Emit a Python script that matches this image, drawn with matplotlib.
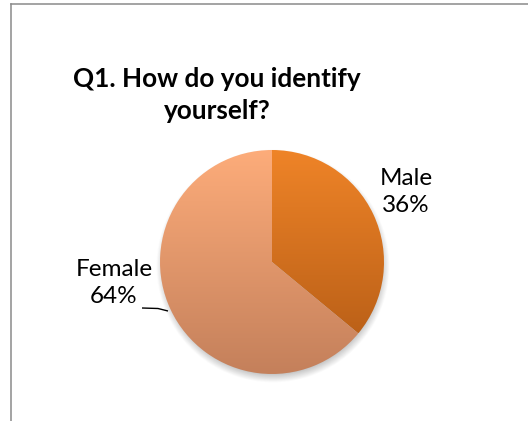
import numpy as np
import matplotlib
matplotlib.use("Agg")
import matplotlib.pyplot as plt
from matplotlib.colors import LinearSegmentedColormap
from matplotlib.lines import Line2D

# Survey answers
labels = ["Male", "Female"]
shares = [36, 64]
# top / bottom colours of each slice's vertical gradient
top_colors = ["#EF8428", "#FDAC7A"]
bottom_colors = ["#BC6118", "#C4805B"]

title = "Q1. How do you identify\nyourself?"

W, H = 528, 421
fig = plt.figure(figsize=(W / 100, H / 100), dpi=100)
ax = fig.add_axes([0, 0, 1, 1])

cx, cy, r = 272, H - 262, 112

# soft drop shadow under the pie
gx = np.linspace(cx - r - 20, cx + r + 20, 300)
gy = np.linspace(cy - r - 20, cy + r + 20, 300)
X, Y = np.meshgrid(gx, gy)
d = np.hypot(X - (cx + 1), Y - (cy - 4))
blur = 10.0
alpha = np.clip((r + blur / 2 - d) / blur, 0, 1) * 0.4
shadow = np.zeros((300, 300, 4))
shadow[..., :3] = 0.35
shadow[..., 3] = alpha
ax.imshow(shadow, extent=[gx[0], gx[-1], gy[0], gy[-1]], origin="lower",
          zorder=1, interpolation="bilinear")

wedges, _ = ax.pie(shares, center=(cx, cy), radius=r, startangle=90,
                   counterclock=False, frame=True,
                   wedgeprops=dict(linewidth=0))

for w, c0, c1 in zip(wedges, top_colors, bottom_colors):
    w.set_facecolor("none")
    w.set_zorder(2)
    bb = w.get_path().get_extents(w.get_transform() + ax.transData.inverted())
    cmap = LinearSegmentedColormap.from_list("g", [c1, c0])
    grad = np.linspace(0, 1, 256).reshape(-1, 1)
    im = ax.imshow(grad, cmap=cmap, extent=[bb.x0, bb.x1, bb.y0, bb.y1],
                   origin="lower", aspect="auto", zorder=3,
                   interpolation="bilinear")
    im.set_clip_path(w)

ax.set_xlim(0, W)
ax.set_ylim(0, H)
ax.set_aspect("auto")
ax.axis("off")

txt = dict(family=["Lato", "DejaVu Sans"], fontsize=17.5, color="black",
           ha="center", va="center", linespacing=1.3)
ax.text(406, H - 192, f"{labels[0]}\n{shares[0]}%", **txt)
ax.text(114, H - 283, f"{labels[1]}\n{shares[1]}%", **txt)

# leader line for the Female label
ax.plot([142, 158, 168], [H - 308, H - 308.5, H - 311], color="black",
        lw=1.0, zorder=4, solid_capstyle="butt")

ax.text(217, H - 95, title, family=["Lato", "DejaVu Sans"], fontsize=18.8,
        fontweight="bold", ha="center", va="center", linespacing=1.4)

# chart area border
fig.add_artist(Line2D([10.5 / W, 1], [1 - 4 / H, 1 - 4 / H],
                      color="#8a8a8a", lw=1.1))
fig.add_artist(Line2D([10.5 / W, 10.5 / W], [0, 1 - 4 / H],
                      color="#8a8a8a", lw=1.1))

fig.savefig("out.png", dpi=100)
